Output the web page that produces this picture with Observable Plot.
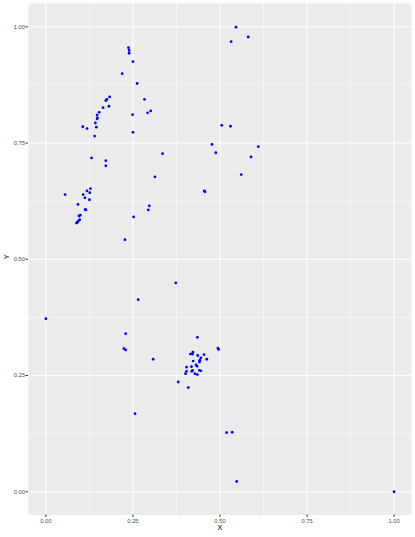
<!DOCTYPE html>
<html>
<head>
<meta charset="utf-8">
<script src="https://cdn.jsdelivr.net/npm/d3@7"></script>
<script src="https://cdn.jsdelivr.net/npm/@observablehq/plot@0.6"></script>
<style>
  html, body { margin: 0; padding: 0; background: #fff; }
  svg { display: block; }
</style>
</head>
<body>
<div id="chart"></div>
<script>
const xValues = [
  0.546, 0.581, 0.532, 0.237, 0.239, 0.239, 0.250, 0.219, 0.262, 0.183,
  0.175, 0.172, 0.181, 0.164, 0.153, 0.147, 0.148, 0.147, 0.142, 0.145,
  0.106, 0.118, 0.140, 0.249, 0.250, 0.283, 0.301, 0.292, 0.505, 0.530,
  0.477, 0.488, 0.610, 0.589, 0.561, 0.335, 0.172, 0.172, 0.313, 0.131,
  0.455, 0.457, 0.055, 0.128, 0.118, 0.126, 0.107, 0.112, 0.125, 0.092,
  0.115, 0.113, 0.099, 0.095, 0.097, 0.093, 0.090, 0.088, 0.297, 0.294,
  0.252, 0.227, 0.373, 0.265, 0.000, 0.229, 0.224, 0.229, 0.308, 0.435,
  0.494, 0.496, 0.422, 0.415, 0.421, 0.436, 0.454, 0.445, 0.442, 0.462,
  0.423, 0.441, 0.431, 0.434, 0.418, 0.404, 0.441, 0.445, 0.419, 0.421,
  0.404, 0.401, 0.428, 0.435, 0.380, 0.409, 0.519, 0.535, 0.548, 1.000,
  0.256
];
const yValues = [
  0.999, 0.978, 0.968, 0.955, 0.949, 0.943, 0.925, 0.899, 0.878, 0.849,
  0.844, 0.841, 0.829, 0.826, 0.816, 0.810, 0.804, 0.802, 0.793, 0.784,
  0.785, 0.781, 0.765, 0.811, 0.773, 0.844, 0.819, 0.815, 0.788, 0.786,
  0.747, 0.729, 0.742, 0.720, 0.682, 0.727, 0.712, 0.701, 0.677, 0.718,
  0.647, 0.645, 0.639, 0.652, 0.647, 0.643, 0.639, 0.632, 0.628, 0.618,
  0.606, 0.607, 0.595, 0.593, 0.585, 0.582, 0.579, 0.578, 0.615, 0.606,
  0.591, 0.542, 0.449, 0.413, 0.372, 0.340, 0.308, 0.305, 0.285, 0.332,
  0.309, 0.306, 0.300, 0.296, 0.296, 0.293, 0.295, 0.288, 0.283, 0.285,
  0.281, 0.279, 0.273, 0.270, 0.269, 0.268, 0.261, 0.260, 0.259, 0.261,
  0.259, 0.254, 0.254, 0.252, 0.236, 0.224, 0.127, 0.128, 0.022, 0.000,
  0.168
];
const majorTicks = [0, 0.25, 0.5, 0.75, 1];
const minorTicks = [0.125, 0.375, 0.625, 0.875];
const tickLabels = ["0.00", "0.25", "0.50", "0.75", "1.00"];
const xTitle = "X";
const yTitle = "Y";

const data = xValues.map((x, i) => ({x, y: yValues[i]}));
const fmt = d => tickLabels[majorTicks.indexOf(d)];
const font = "'Liberation Sans', Arial, Helvetica, sans-serif";

const chart = Plot.plot({
  width: 415,
  height: 537,
  marginLeft: 28,
  marginRight: 4,
  marginTop: 3,
  marginBottom: 22.5,
  style: {fontFamily: font, background: "#ffffff"},
  x: {domain: [-0.05, 1.05]},
  y: {domain: [-0.05, 1.05]},
  marks: [
    Plot.frame({fill: "#EBEBEB", stroke: "none"}),
    Plot.ruleX(minorTicks, {stroke: "#ffffff", strokeWidth: 0.5}),
    Plot.ruleY(minorTicks, {stroke: "#ffffff", strokeWidth: 0.5}),
    Plot.ruleX(majorTicks, {stroke: "#ffffff", strokeWidth: 1}),
    Plot.ruleY(majorTicks, {stroke: "#ffffff", strokeWidth: 1}),
    Plot.axisX({ticks: majorTicks, tickFormat: fmt, tickSize: 2.5, tickPadding: 1.5,
      stroke: "#333333", fill: "#4D4D4D", fontSize: 5.8, label: null}),
    Plot.axisY({ticks: majorTicks, tickFormat: fmt, tickSize: 2.5, tickPadding: 1,
      stroke: "#333333", fill: "#4D4D4D", fontSize: 5.8, label: null}),
    Plot.dot(data, {x: "x", y: "y", r: 1.4, fill: "#0000FF", stroke: "none"}),
    Plot.text([xTitle], {frameAnchor: "bottom", dy: 15, fontSize: 7.3, fill: "#000000"}),
    Plot.text([yTitle], {frameAnchor: "left", dx: -22, rotate: -90, fontSize: 7.3, fill: "#000000"})
  ]
});
document.getElementById("chart").appendChild(chart);
</script>
</body>
</html>
